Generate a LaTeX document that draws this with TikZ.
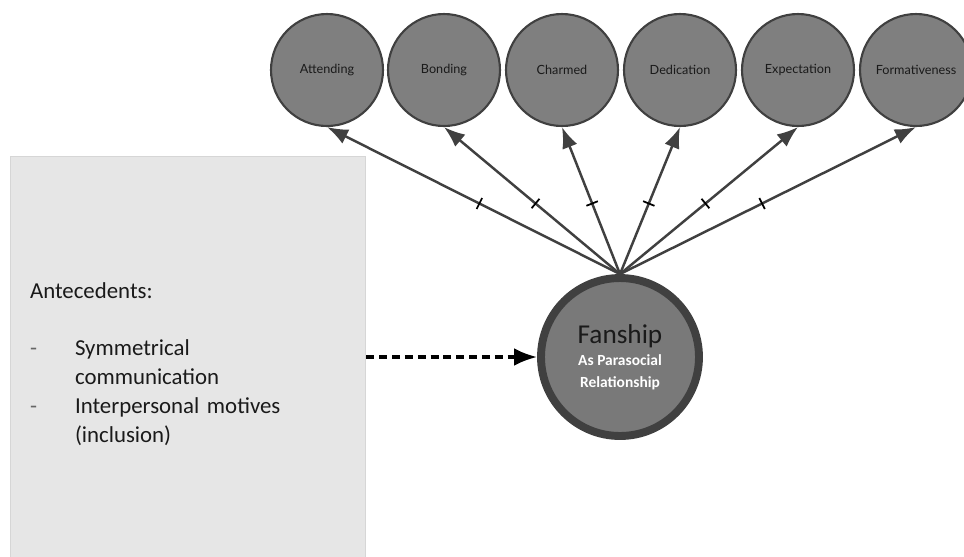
\documentclass[tikz,border=0pt]{standalone}
\usepackage{fontspec}
\setmainfont{Carlito}
\newfontfamily\labelfont{Lato}
\usetikzlibrary{arrows.meta,positioning}
\definecolor{circfill}{HTML}{7F7F7F}
\definecolor{circline}{HTML}{404040}
\definecolor{boxfill}{HTML}{E6E6E6}
\definecolor{boxline}{HTML}{D6D6D6}
\definecolor{fantext}{HTML}{1A1A1A}
\newcommand{\dashitem}[1]{\makebox[0.9cm][l]{\textcolor{black!60}{-}}#1}

\begin{document}
\begin{tikzpicture}[x=0.02cm, y=-0.02cm,
    factor/.style={circle, draw=circline, fill=circfill, line width=1.2pt,
      minimum size=2.24cm, inner sep=0pt, text=fantext,
      font=\labelfont\fontsize{7.2}{8}\selectfont},
    fanbox/.style={circle, draw=circline, fill=circfill!95!black, line width=4.5pt,
      minimum size=3.16cm, inner sep=0pt, align=center},
    antebox/.style={rectangle, draw=boxline, fill=boxfill, line width=0.6pt,
      minimum width=7.12cm, minimum height=8.32cm, inner xsep=0.4cm,
      text width=6.32cm, align=left, text=fantext,
      font=\fontsize{13}{16.4}\selectfont},
    loading/.style={-{Latex[length=12pt,width=9pt]}, draw=circline, line width=1.4pt},
    tickmark/.style={sloped, draw=none, fill=black, inner sep=0pt,
      minimum width=1pt, minimum height=7pt},
    influence/.style={-{Latex[length=13pt,width=10pt]}, line width=1.8pt,
      dash pattern=on 4.5pt off 2.8pt}]
  \useasboundingbox (0,0) rectangle (964,556);

  % antecedents box
  \node[antebox] (ante) at (188,364) {Antecedents:\\[16.4pt]
    \dashitem{Symmetrical}\\
    \hspace*{0.9cm}communication\\
    \dashitem{Interpersonal motives}\\
    \hspace*{0.9cm}(inclusion)};

  % latent construct
  \node[fanbox, text=fantext, font=\fontsize{15.5}{12.5}\selectfont] (fan) at (620,357)
    {Fanship\\
     \fontsize{8.8}{11}\selectfont\bfseries\color{white}As Parasocial\\
     \fontsize{8.8}{11}\selectfont\bfseries\color{white}Relationship};

  % dimensions
  \node[factor] (att) at (327,70) {Attending};
  \node[factor] (bon) at (444,70) {Bonding};
  \node[factor] (cha) at (562,70) {Charmed};
  \node[factor] (ded) at (680,70) {Dedication};
  \node[factor] (exp) at (798,70) {Expectation};
  \node[factor] (for) at (916,70) {Formativeness};

  \draw[loading] (fan.north) -- node[tickmark, pos=0.48] {} (att.south);
  \draw[loading] (fan.north) -- node[tickmark, pos=0.48] {} (bon.south);
  \draw[loading] (fan.north) -- node[tickmark, pos=0.48] {} (cha.south);
  \draw[loading] (fan.north) -- node[tickmark, pos=0.48] {} (ded.south);
  \draw[loading] (fan.north) -- node[tickmark, pos=0.48] {} (exp.south);
  \draw[loading] (fan.north) -- node[tickmark, pos=0.48] {} (for.south);

  \draw[influence] (ante.east |- fan.west) -- (fan.west);
\end{tikzpicture}
\end{document}
